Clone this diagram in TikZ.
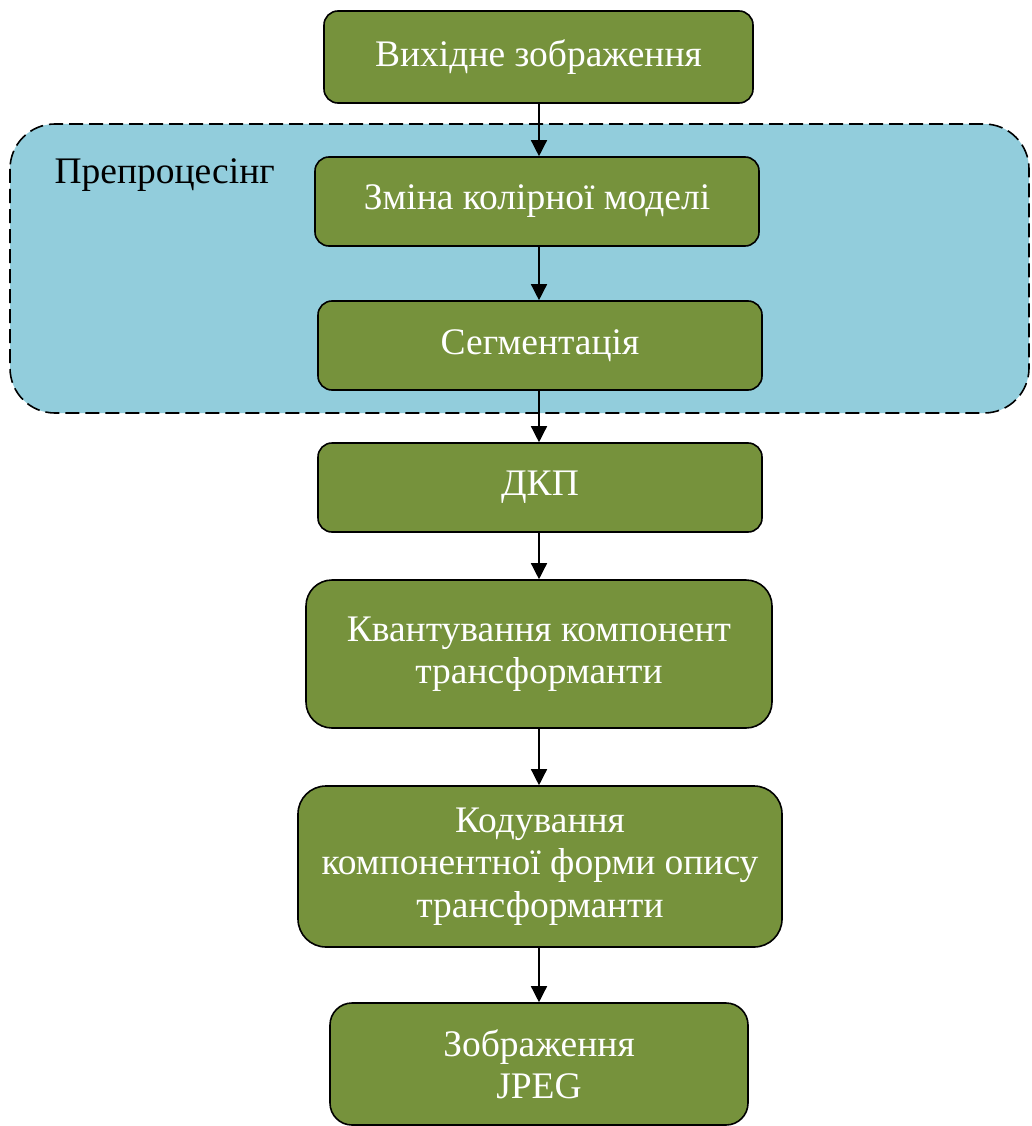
\documentclass[tikz,border=0pt]{standalone}
\usepackage{fontspec}
\setmainfont{Liberation Serif}
\usetikzlibrary{arrows.meta}
\definecolor{boxgreen}{RGB}{118,146,60}
\definecolor{regionblue}{RGB}{146,205,220}
\tikzset{
  stepbox/.style={draw=black, line width=1.6pt, fill=boxgreen, rounded corners=14pt,
    text=white, align=center, inner sep=0pt,
    font=\fontsize{37.5}{42.5}\selectfont},
  arr/.style={line width=1.4pt, -{Triangle[width=16pt,length=16pt]}},
  region/.style={draw=black, line width=1.6pt, fill=regionblue, dash pattern=on 14pt off 6pt, rounded corners=45pt}
}
\begin{document}
\begin{tikzpicture}[x=1pt,y=-1pt]
\useasboundingbox (0,0) rectangle (1031,1126);
\draw[region] (10,124) rectangle (1029,413);
\node[anchor=base west, font=\fontsize{37.5}{42.5}\selectfont] (pre) at (51,184) {Препроцесінг};

\node[stepbox, minimum width=429pt, minimum height=92pt] (b1) at (538.5,57) {\raisebox{-4pt}{Вихідне зображення}};
\node[stepbox, minimum width=444pt, minimum height=89pt] (b2) at (537,201.5) {\raisebox{-2pt}{Зміна колірної моделі}};
\node[stepbox, minimum width=444pt, minimum height=89pt] (b3) at (540,345.5) {\raisebox{-2pt}{Сегментація}};
\node[stepbox, minimum width=444pt, minimum height=89pt] (b4) at (540,487.5) {ДКП};
\node[stepbox, rounded corners=26pt, minimum width=466pt, minimum height=148pt] (b5) at (539,654) {Квантування компонент\\трансформанти};
\node[stepbox, rounded corners=28pt, minimum width=484pt, minimum height=161pt] (b6) at (540,866.5) {Кодування\\компонентної форми опису\\трансформанти};
\node[stepbox, rounded corners=22pt, minimum width=418pt, minimum height=122pt] (b7) at (539,1064) {Зображення\\JPEG};

\coordinate (ax) at (539,0);
\draw[arr] (b1.south -| ax) -- (b2.north -| ax);
\draw[arr] (b2.south -| ax) -- (b3.north -| ax);
\draw[arr] (b3.south -| ax) -- (b4.north -| ax);
\draw[arr] (b4.south -| ax) -- (b5.north -| ax);
\draw[arr] (b5.south -| ax) -- (b6.north -| ax);
\draw[arr] (b6.south -| ax) -- (b7.north -| ax);
\end{tikzpicture}
\end{document}
